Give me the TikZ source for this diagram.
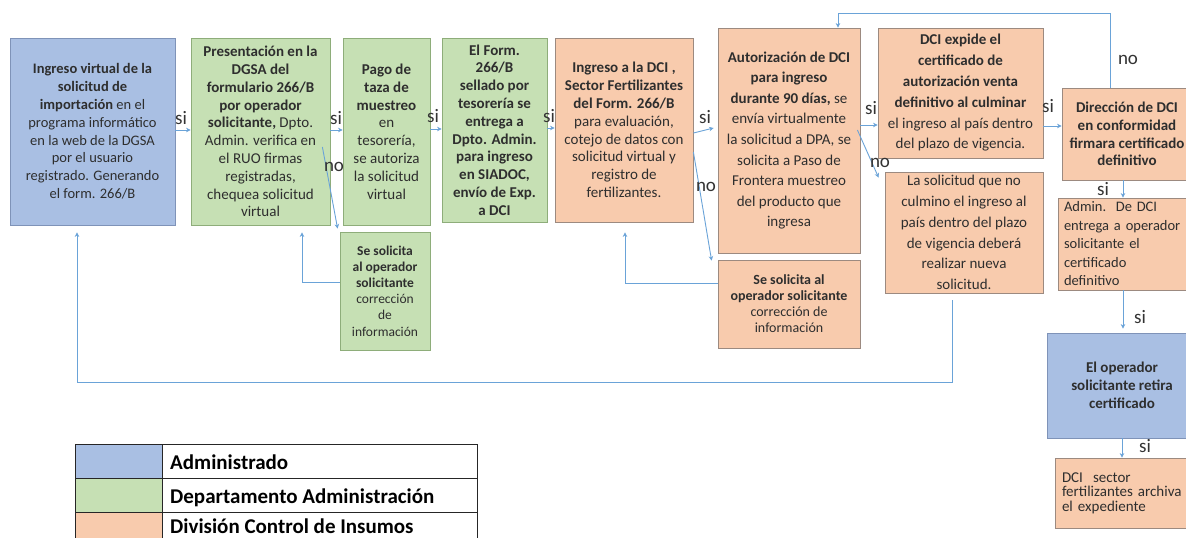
\documentclass[tikz,border=0pt]{standalone}
\usepackage{fontspec}
\setmainfont{Carlito}
\usetikzlibrary{arrows.meta}
\definecolor{bluefill}{HTML}{A9BFE3}
\definecolor{blueline}{HTML}{7F93B8}
\definecolor{grnfill}{HTML}{C6E0B4}
\definecolor{grnline}{HTML}{8EAD7A}
\definecolor{orgfill}{HTML}{F8CBAD}
\definecolor{orgline}{HTML}{9C8A80}
\definecolor{conncol}{HTML}{6AA3D8}
\definecolor{txtcol}{HTML}{2E2E2E}
\begin{document}
\begin{tikzpicture}[x=1pt,y=-1pt,
  bx/.style={draw, line width=0.8pt, inner sep=0pt, align=center, text=txtcol,
    font=\fontsize{15}{17.8}\selectfont},
  blu/.style={bx, fill=bluefill, draw=blueline},
  grn/.style={bx, fill=grnfill, draw=grnline},
  org/.style={bx, fill=orgfill, draw=orgline},
  conn/.style={draw=conncol, line width=0.9pt, -{Stealth[length=4.5pt,width=4.5pt]}},
  lab/.style={font=\fontsize{19}{19}\selectfont, text=black!80, inner sep=0pt},
  legcell/.style={draw=black!85, line width=0.8pt, inner sep=0pt, minimum height=34pt},
  legtxt/.style={font=\bfseries\fontsize{21}{21}\selectfont, text=black, inner sep=0pt, anchor=base west}
]
\useasboundingbox (0,0) rectangle (1186,538);
\clip (0,0) rectangle (1186,538);
\fill[white] (0,0) rectangle (1186,538);

% boxes
\node[blu, minimum width=165pt, minimum height=187pt, font=\fontsize{14.5}{17.8}\selectfont] (A) at (92.5,131.5)
 {\textbf{Ingreso virtual de la}\\\textbf{solicitud de}\\\textbf{importación} en el\\programa informático\\en la web de la DGSA\\por el usuario\\registrado. Generando\\el form. 266/B};
\node[grn, minimum width=139pt, minimum height=187pt] (B) at (260.5,131.5)
 {\textbf{Presentación en la}\\\textbf{DGSA del}\\\textbf{formulario 266/B}\\\textbf{por operador}\\\textbf{solicitante,} Dpto.\\Admin. verifica en\\el RUO firmas\\registradas,\\chequea solicitud\\virtual};
\node[grn, minimum width=87pt, minimum height=187pt] (C) at (386.5,131.5)
 {\textbf{Pago de}\\\textbf{taza de}\\\textbf{muestreo}\\en\\tesorería,\\se autoriza\\la solicitud\\virtual};
\node[grn, minimum width=105pt, minimum height=184pt] (D) at (494.5,130)
 {\textbf{El Form.}\\\textbf{266/B}\\\textbf{sellado por}\\\textbf{tesorería se}\\\textbf{entrega a}\\\textbf{Dpto. Admin.}\\\textbf{para ingreso}\\\textbf{en SIADOC,}\\\textbf{envío de Exp.}\\\textbf{a DCI}};
\node[grn, minimum width=90pt, minimum height=118pt, font=\fontsize{13.5}{16.2}\selectfont] (E) at (385,291)
 {\textbf{Se solicita}\\\textbf{al operador}\\\textbf{solicitante}\\corrección\\de\\información};
\node[org, minimum width=138pt, minimum height=184pt] (F) at (624,130)
 {\textbf{Ingreso a la DCI ,}\\\textbf{Sector Fertilizantes}\\\textbf{del Form. 266/B}\\para evaluación,\\cotejo de datos con\\solicitud virtual y\\registro de\\fertilizantes.};
\node[org, minimum width=142pt, minimum height=225pt, font=\fontsize{15}{20.6}\selectfont] (G) at (789,140.5)
 {\textbf{Autorización de DCI}\\\textbf{para ingreso}\\\textbf{durante 90 días,} se\\envía virtualmente\\la solicitud a DPA, se\\solicita a Paso de\\Frontera muestreo\\del producto que\\ingresa};
\node[org, minimum width=142pt, minimum height=88pt, font=\fontsize{14}{16}\selectfont] (H) at (789,304)
 {\textbf{Se solicita al}\\\textbf{operador solicitante}\\corrección de\\información};
\node[org, minimum width=165pt, minimum height=130pt, font=\fontsize{15}{20.8}\selectfont] (I) at (960.5,93)
 {\textbf{DCI expide el}\\\textbf{certificado de}\\\textbf{autorización venta}\\\textbf{definitivo al culminar}\\el ingreso al país dentro\\del plazo de vigencia.};
\node[org, minimum width=158pt, minimum height=121pt, font=\fontsize{15}{20.8}\selectfont] (J) at (964,232.5)
 {La solicitud que no\\culmino el ingreso al\\país dentro del plazo\\de vigencia deberá\\realizar nueva\\solicitud.};
\node[org, minimum width=130pt, minimum height=92pt] (K) at (1127,134)
 {\textbf{Dirección de DCI}\\\textbf{en conformidad}\\\textbf{firmara certificado}\\\textbf{definitivo}};
\node[org, minimum height=92pt, align=left, text width=130pt, inner xsep=6pt, font=\fontsize{14.5}{18.5}\selectfont] (L) at (1129,244)
 {Admin.\ \ De DCI\\entrega a operador\\solicitante el\\certificado\\definitivo};
\node[blu, minimum width=150pt, minimum height=105pt] (M) at (1122,385.5)
 {\textbf{El operador}\\\textbf{solicitante retira}\\\textbf{certificado}};
\node[org, minimum height=70pt, align=left, text width=130pt, inner xsep=7pt, font=\fontsize{15}{14.5}\selectfont] (N) at (1127,493)
 {DCI\ \ sector\\fertilizantes archiva\\el expediente};

% connectors
\draw[conn] (A.east |- 0,130) -- (B.west |- 0,130);
\draw[conn] (B.east |- 0,130) -- (C.west |- 0,130);
\draw[conn] (C.east |- 0,129) -- (D.west |- 0,129);
\draw[conn] (D.east |- 0,128) -- (F.west |- 0,128);
\draw[conn] (F.east |- 0,133) -- ([xshift=-4pt]G.west |- 0,128);
\draw[conn] (G.east |- 0,125) -- (I.west |- 0,125);
\draw[conn] (I.east |- 0,126) -- (K.west |- 0,126);
\draw[conn] ([xshift=-8pt]B.east |- 0,147) -- ([xshift=-2pt,yshift=3pt]E.north west);
\draw[conn] (F.east |- 0,152) -- ([xshift=-6pt,yshift=-1pt]H.north west);
\draw[conn] ([xshift=-3pt]G.east |- 0,130) -- ([xshift=-6pt,yshift=-6pt]J.north west);
\draw[conn] ([yshift=9pt]E.west) -| ([xshift=41.5pt,yshift=-7pt]B.south);
\draw[conn] ([yshift=21pt]H.west) -| ([xshift=1pt,yshift=-10pt]F.south);
\draw[conn] ([xshift=-12pt,yshift=-7pt]J.south) -- ++(0,82) -| ([xshift=-15.5pt,yshift=-7pt]A.south);
\draw[conn] ([xshift=-17pt]K.north) -- ++(0,-74) -| ([xshift=49pt]G.north);
\draw[conn] ([xshift=-4pt]K.south) -- ([xshift=-4pt]K.south |- L.north);
\draw[conn] ([xshift=-6pt]L.south) -- ([xshift=-6pt,yshift=4pt]L.south |- M.north);
\draw[conn] (M.south) -- (M.south |- N.north);

% labels
\node[lab] (s1) at (181,118) {si};
\node[lab] (s2) at (336,118) {si};
\node[lab] (n1) at (334,167) {no};
\node[lab] (s3) at (433,116) {si};
\node[lab] (s4) at (549,116) {si};
\node[lab] (s5) at (705,117) {si};
\node[lab] (n2) at (706,187) {no};
\node[lab] (s6) at (871,108) {si};
\node[lab] (n3) at (880,163) {no};
\node[lab] (s7) at (1048,106) {si};
\node[lab] (n4) at (1128,60) {no};
\node[lab] (s8) at (1103,189) {si};
\node[lab] (s9) at (1140,317) {si};
\node[lab] (s10) at (1145,446) {si};

% legend
\node[legcell, fill=bluefill, minimum width=87pt] (c1) at (118.5,461) {};
\node[legcell, minimum width=315pt] (t1) at (319.5,461) {};
\node[legcell, fill=grnfill, minimum width=87pt] (c2) at (118.5,495) {};
\node[legcell, minimum width=315pt] (t2) at (319.5,495) {};
\node[legcell, fill=orgfill, minimum width=87pt] (c3) at (118.5,529) {};
\node[legcell, minimum width=315pt] (t3) at (319.5,529) {};
\node[legtxt] (x1) at (170,469) {Administrado};
\node[legtxt] (x2) at (170,503) {Departamento Administración};
\node[legtxt] (x3) at (170,533) {División Control de Insumos};
\end{tikzpicture}
\end{document}
